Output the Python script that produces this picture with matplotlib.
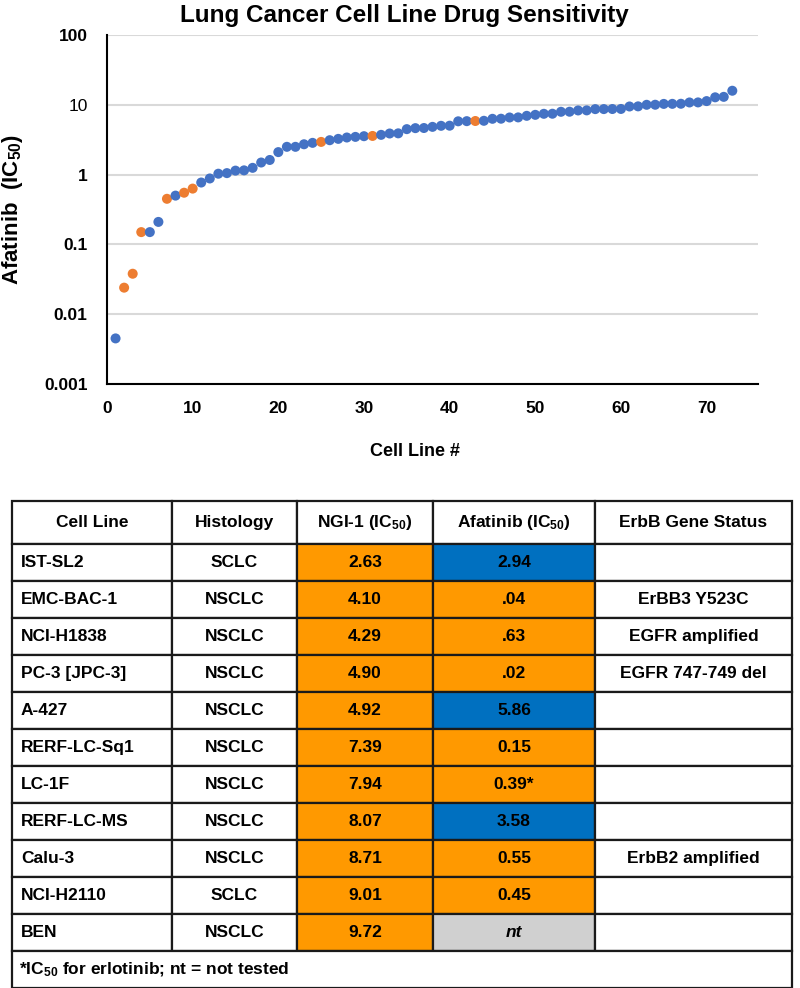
import matplotlib
matplotlib.use("Agg")
import matplotlib.pyplot as plt
from matplotlib.patches import Rectangle

plt.rcParams["font.family"] = ["Liberation Sans", "DejaVu Sans"]
plt.rcParams["font.weight"] = "bold"
plt.rcParams["axes.labelweight"] = "bold"
plt.rcParams["mathtext.fontset"] = "custom"
plt.rcParams["mathtext.rm"] = "Liberation Sans:bold"
plt.rcParams["mathtext.it"] = "Liberation Sans:bold:italic"
plt.rcParams["mathtext.bf"] = "Liberation Sans:bold"

# Afatinib IC50 for each cell line, sorted (cell line # = position + 1)
afatinib = [
    0.0045, 0.024, 0.038, 0.15, 0.15, 0.21, 0.45, 0.50, 0.55, 0.63,
    0.77, 0.88, 1.03, 1.05, 1.14, 1.15, 1.25, 1.49, 1.62, 2.1,
    2.5, 2.5, 2.72, 2.85, 2.94, 3.11, 3.25, 3.4, 3.47, 3.55,
    3.58, 3.71, 3.88, 3.9, 4.48, 4.63, 4.65, 4.83, 5.0, 5.02,
    5.8, 5.83, 5.86, 5.9, 6.3, 6.32, 6.58, 6.6, 6.95, 7.18,
    7.43, 7.45, 7.94, 7.96, 8.3, 8.32, 8.67, 8.68, 8.7, 8.72,
    9.46, 9.5, 10.0, 10.02, 10.3, 10.32, 10.35, 10.8, 10.82, 11.3,
    12.8, 13.0, 15.9,
]
# cell line numbers that are NGI-1 sensitive (orange)
highlighted = [2, 3, 4, 7, 9, 10, 25, 31, 43]

y_ticks = [0.001, 0.01, 0.1, 1, 10, 100]
y_tick_labels = ["0.001", "0.01", "0.1", "1", "10", "100"]
x_ticks = [0, 10, 20, 30, 40, 50, 60, 70]

# Table contents
headers = ["Cell Line", "Histology", "NGI-1 (IC$_{50}$)", "Afatinib (IC$_{50}$)",
           "ErbB Gene Status"]
cell_lines = ["IST-SL2", "EMC-BAC-1", "NCI-H1838", "PC-3 [JPC-3]", "A-427",
              "RERF-LC-Sq1", "LC-1F", "RERF-LC-MS", "Calu-3", "NCI-H2110", "BEN"]
histology = ["SCLC", "NSCLC", "NSCLC", "NSCLC", "NSCLC", "NSCLC", "NSCLC",
             "NSCLC", "NSCLC", "SCLC", "NSCLC"]
ngi1 = ["2.63", "4.10", "4.29", "4.90", "4.92", "7.39", "7.94", "8.07",
        "8.71", "9.01", "9.72"]
afatinib_tab = ["2.94", ".04", ".63", ".02", "5.86", "0.15", "0.39*", "3.58",
                "0.55", "0.45", "nt"]
afatinib_class = ["hi", "lo", "lo", "lo", "hi", "lo", "lo", "hi", "lo", "lo",
                  "nt"]
erbb = ["", "ErBB3 Y523C", "EGFR amplified", "EGFR 747-749 del", "", "", "",
        "", "ErbB2 amplified", "", ""]
footnote = "*IC$_{50}$ for erlotinib; nt = not tested"

BLUE = "#4472C4"
ORANGE = "#ED7D31"
CELL_ORANGE = "#FF9900"
CELL_BLUE = "#0070C0"
CELL_GREY = "#D0D0D0"

fig = plt.figure(figsize=(8, 9.88), dpi=100)

# ---- scatter plot ----
ax = fig.add_axes([107 / 800, 1 - 384 / 988, 651 / 800, 349 / 988])
xs = list(range(1, len(afatinib) + 1))
colors = [ORANGE if x in highlighted else BLUE for x in xs]
ax.scatter(xs, afatinib, s=52, c=colors, zorder=3, linewidths=0)
ax.set_yscale("log")
ax.set_ylim(0.001, 100)
ax.set_xlim(0, 76)
ax.set_yticks(y_ticks, labels=y_tick_labels)
ax.minorticks_off()
ax.set_xticks(x_ticks)
ax.tick_params(length=0, labelsize=12.5, pad=14)
ax.tick_params(axis="x", pad=12)
ax.get_yticklabels()[4].set_fontweight("normal")
ax.grid(axis="y", color="#D9D9D9", lw=1.5)
ax.set_axisbelow(True)
for side in ("top", "right"):
    ax.spines[side].set_visible(False)
for side in ("left", "bottom"):
    ax.spines[side].set_linewidth(1.5)
ax.set_xlabel("Cell Line #", fontsize=13, labelpad=18)
ax.xaxis.set_label_coords(0.473, -0.17)
ax.set_ylabel("Afatinib  (IC$_{50}$)", fontsize=16, labelpad=14)
fig.text(0.506, 0.984, "Lung Cancer Cell Line Drug Sensitivity", ha="center",
         va="center", fontsize=17.5)

# ---- table ----
col_w = [160, 125, 136, 162, 197]
head_h, row_h = 43, 37
n_rows = len(cell_lines)
total_w = sum(col_w)
total_h = head_h + row_h * (n_rows + 1)
tax = fig.add_axes([12 / 800, 1 - 988 / 988, total_w / 800, total_h / 988])
tax.set_xlim(0, total_w)
tax.set_ylim(total_h, 0)
tax.axis("off")

col_x = [sum(col_w[:i]) for i in range(len(col_w))]
fs = 12.5


def cell(ci, top, h, text, face="white", align="center", style="normal"):
    x0 = col_x[ci]
    tax.add_patch(Rectangle((x0, top), col_w[ci], h, facecolor=face,
                            edgecolor="#1a1a1a", lw=1.6, clip_on=False))
    if align == "left":
        tax.text(x0 + 9, top + h / 2, text, ha="left", va="center",
                 fontsize=fs, style=style)
    else:
        tax.text(x0 + col_w[ci] / 2, top + h / 2, text, ha="center",
                 va="center", fontsize=fs, style=style)


for ci, h in enumerate(headers):
    cell(ci, 0, head_h, h)

class_colors = {"hi": CELL_BLUE, "lo": CELL_ORANGE, "nt": CELL_GREY}
for r in range(n_rows):
    top = head_h + r * row_h
    cell(0, top, row_h, cell_lines[r], align="left")
    cell(1, top, row_h, histology[r])
    cell(2, top, row_h, ngi1[r], face=CELL_ORANGE)
    cell(3, top, row_h, afatinib_tab[r], face=class_colors[afatinib_class[r]],
         style="italic" if afatinib_class[r] == "nt" else "normal")
    cell(4, top, row_h, erbb[r])

foot_top = head_h + n_rows * row_h
tax.add_patch(Rectangle((0, foot_top), total_w, row_h, facecolor="white",
                        edgecolor="#1a1a1a", lw=1.6, clip_on=False))
tax.text(7, foot_top + row_h / 2, footnote, ha="left", va="center",
         fontsize=fs)

fig.savefig("out.png", dpi=100)
